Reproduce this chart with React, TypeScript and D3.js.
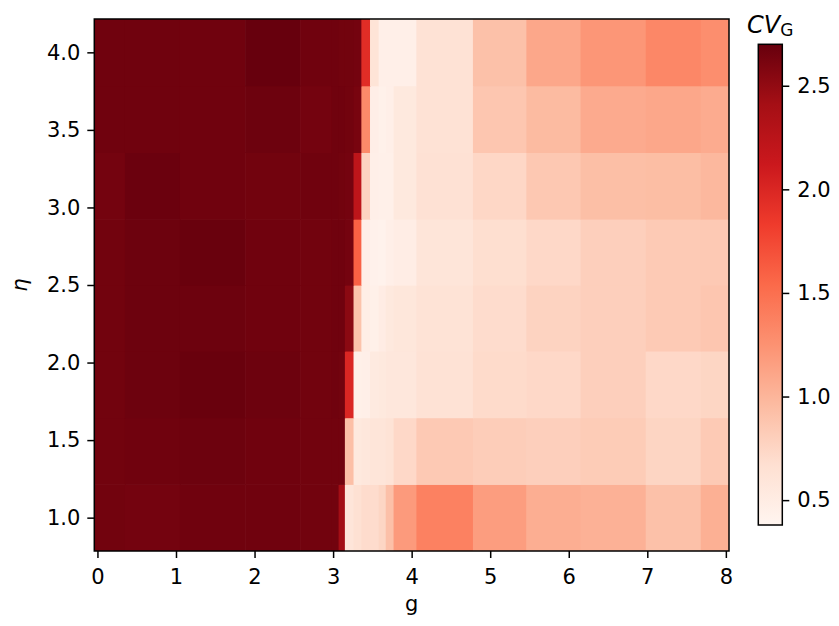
import React, { useEffect, useRef } from "react";
import * as d3 from "d3";

// eta rows (bottom to top) and g column edges
const etaValues = [1.0, 1.43, 1.86, 2.29, 2.71, 3.14, 3.57, 4.0];
const gEdges = [-0.04, 0.35, 1.05, 1.88, 2.58, 2.98, 3.07, 3.15, 3.26, 3.36, 3.47, 3.58, 3.67, 3.77, 4.06, 4.78, 5.46, 6.15, 6.98, 7.68, 8.04];

// CV_G per row, one value per g column
const cvEta100 = [2.65, 2.64, 2.66, 2.66, 2.65, 2.65, 2.42, 0.60, 0.66, 0.70, 0.70, 0.75, 0.92, 1.19, 1.37, 1.17, 1.05, 1.03, 0.91, 1.04];
const cvEta143 = [2.65, 2.66, 2.67, 2.66, 2.65, 2.65, 2.65, 0.93, 0.55, 0.57, 0.60, 0.60, 0.63, 0.73, 0.85, 0.82, 0.80, 0.83, 0.76, 0.84];
const cvEta186 = [2.65, 2.67, 2.69, 2.67, 2.65, 2.66, 2.65, 2.00, 0.45, 0.46, 0.53, 0.55, 0.57, 0.57, 0.64, 0.71, 0.73, 0.80, 0.73, 0.75];
const cvEta229 = [2.65, 2.67, 2.67, 2.66, 2.65, 2.66, 2.66, 2.53, 0.90, 0.48, 0.45, 0.50, 0.55, 0.58, 0.63, 0.70, 0.77, 0.80, 0.84, 0.87];
const cvEta271 = [2.65, 2.67, 2.69, 2.66, 2.65, 2.66, 2.66, 2.64, 1.60, 0.47, 0.43, 0.42, 0.46, 0.49, 0.60, 0.68, 0.73, 0.80, 0.84, 0.85];
const cvEta314 = [2.64, 2.68, 2.66, 2.65, 2.66, 2.66, 2.65, 2.64, 2.23, 0.77, 0.46, 0.45, 0.45, 0.55, 0.65, 0.74, 0.86, 0.93, 0.94, 0.98];
const cvEta357 = [2.66, 2.66, 2.66, 2.67, 2.64, 2.66, 2.66, 2.65, 2.62, 1.31, 0.47, 0.44, 0.46, 0.55, 0.64, 0.87, 0.96, 1.08, 1.10, 1.07];
const cvEta400 = [2.66, 2.66, 2.66, 2.70, 2.66, 2.66, 2.65, 2.65, 2.64, 1.95, 0.62, 0.46, 0.46, 0.46, 0.64, 0.91, 1.10, 1.22, 1.33, 1.28];
const cvRows = [cvEta100, cvEta143, cvEta186, cvEta229, cvEta271, cvEta314, cvEta357, cvEta400];

const gTicks = [0, 1, 2, 3, 4, 5, 6, 7, 8];
const etaTicks = [1.0, 1.5, 2.0, 2.5, 3.0, 3.5, 4.0];
const cvTicks = [0.5, 1.0, 1.5, 2.0, 2.5];
const cvMin = 0.38;
const cvMax = 2.7;

export default function App() {
  const ref = useRef<SVGSVGElement>(null);

  useEffect(() => {
    const svg = d3.select(ref.current);
    svg.selectAll("*").remove();

    const left = 94.3, right = 729, top = 19, bottom = 551;
    const fs = 21;
    const lw = 1.5;

    // row edges halfway between eta values
    const etaEdges: number[] = [etaValues[0] - (etaValues[1] - etaValues[0]) / 2];
    for (let i = 0; i < etaValues.length - 1; i++) etaEdges.push((etaValues[i] + etaValues[i + 1]) / 2);
    const n = etaValues.length;
    etaEdges.push(etaValues[n - 1] + (etaValues[n - 1] - etaValues[n - 2]) / 2);

    const x = d3.scaleLinear().domain([gEdges[0], gEdges[gEdges.length - 1]]).range([left, right]);
    const y = d3.scaleLinear().domain([etaEdges[0], etaEdges[etaEdges.length - 1]]).range([bottom, top]);

    // matplotlib-like Reds: linear between the 9 brewer colours
    const reds = d3.schemeReds[9];
    const stops = reds.map((_, i) => cvMin + (i * (cvMax - cvMin)) / 8);
    const color = d3.scaleLinear<string>().domain(stops).range(reds).interpolate(d3.interpolateRgb).clamp(true);

    const defs = svg.append("defs");
    defs.append("clipPath").attr("id", "plotclip")
      .append("rect").attr("x", left).attr("y", top).attr("width", right - left).attr("height", bottom - top);

    const cells = svg.append("g").attr("clip-path", "url(#plotclip)");
    cvRows.forEach((row, r) => {
      row.forEach((v, c) => {
        const x0 = x(gEdges[c]), x1 = x(gEdges[c + 1]);
        const y0 = y(etaEdges[r + 1]), y1 = y(etaEdges[r]);
        cells.append("rect")
          .attr("x", x0).attr("y", y0)
          .attr("width", x1 - x0 + 0.6).attr("height", y1 - y0 + 0.6)
          .attr("fill", color(v));
      });
    });

    svg.append("rect")
      .attr("x", left).attr("y", top).attr("width", right - left).attr("height", bottom - top)
      .attr("fill", "none").attr("stroke", "black").attr("stroke-width", lw);

    const xAxis = svg.append("g").attr("transform", `translate(0,${bottom})`)
      .call(d3.axisBottom(x).tickValues(gTicks).tickSize(7).tickPadding(11).tickFormat(d3.format("d")));
    const yAxis = svg.append("g").attr("transform", `translate(${left},0)`)
      .call(d3.axisLeft(y).tickValues(etaTicks).tickSize(7).tickPadding(7).tickFormat(d3.format(".1f")));
    [xAxis, yAxis].forEach(a => {
      a.select(".domain").remove();
      a.selectAll("line").attr("stroke", "black").attr("stroke-width", lw);
      a.selectAll("text").attr("font-size", fs).attr("font-family", "DejaVu Sans").attr("fill", "black");
    });

    svg.append("text").attr("x", (left + right) / 2).attr("y", 611)
      .attr("text-anchor", "middle").attr("font-size", fs).attr("font-family", "DejaVu Sans").text("g");
    svg.append("text").attr("transform", `translate(27,${(top + bottom) / 2}) rotate(-90)`)
      .attr("text-anchor", "middle").attr("font-size", fs).attr("font-style", "italic")
      .attr("font-family", "DejaVu Sans").text("η");

    // colorbar
    const cx = 758.3, cw = 24, ctop = 44.3, cbot = 525;
    const cy = d3.scaleLinear().domain([cvMin, cvMax]).range([cbot, ctop]);
    const grad = defs.append("linearGradient").attr("id", "cvgrad")
      .attr("x1", 0).attr("y1", 1).attr("x2", 0).attr("y2", 0);
    reds.forEach((c, i) => grad.append("stop").attr("offset", i / 8).attr("stop-color", c));
    svg.append("rect").attr("x", cx).attr("y", ctop).attr("width", cw).attr("height", cbot - ctop)
      .attr("fill", "url(#cvgrad)").attr("stroke", "black").attr("stroke-width", lw);
    const cAxis = svg.append("g").attr("transform", `translate(${cx + cw},0)`)
      .call(d3.axisRight(cy).tickValues(cvTicks).tickSize(7).tickPadding(8).tickFormat(d3.format(".1f")));
    cAxis.select(".domain").remove();
    cAxis.selectAll("line").attr("stroke", "black").attr("stroke-width", lw);
    cAxis.selectAll("text").attr("font-size", fs).attr("font-family", "DejaVu Sans").attr("fill", "black");

    const title = svg.append("text").attr("x", cx + cw / 2).attr("y", 33)
      .attr("text-anchor", "middle").attr("font-family", "DejaVu Sans");
    title.append("tspan").attr("font-size", 24).attr("font-style", "italic").text("CV");
    title.append("tspan").attr("font-size", 17).attr("dy", 3).text("G");
  }, []);

  return (
    <svg ref={ref} width={839} height={626}
      style={{ position: "absolute", left: 0, top: 0, background: "white" }} />
  );
}
